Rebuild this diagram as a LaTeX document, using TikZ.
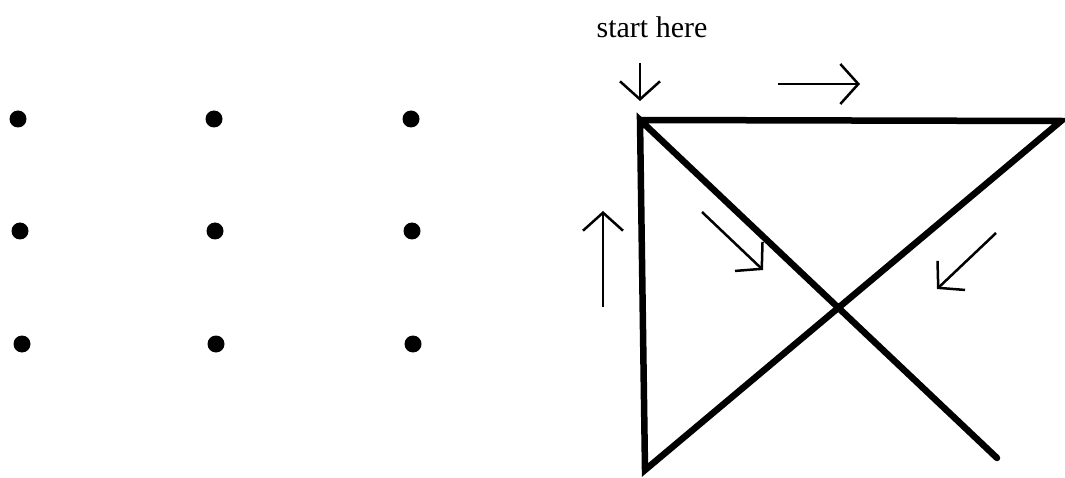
\documentclass[tikz,border=0pt]{standalone}
\usepackage{fontspec}
\setmainfont{Liberation Serif}
\usetikzlibrary{arrows.meta}
\tikzset{
    dot/.style={circle, fill=black, inner sep=0pt, minimum size=17pt},
    stroke/.style={line width=6.5pt, line cap=round},
    hint/.style={line width=2.5pt, -{Straight Barb[length=18pt, width=40pt, line width=2.5pt]}},
}
\begin{document}
\begin{tikzpicture}[x=1pt, y=-1pt]
    \useasboundingbox (0,0) rectangle (1065,478);
    % the nine dots
    \foreach \r/\y in {1/119, 2/231, 3/344} {
        \node[dot] (d\r1) at (16+\r*2,\y) {};
        \node[dot] (d\r2) at (213+\r*1,\y) {};
        \node[dot] (d\r3) at (410+\r*1,\y) {};
    }
    % the solution
    \coordinate (tl) at (640,120);
    \coordinate (tr) at (1061,121);
    \coordinate (bl) at (645,470);
    \coordinate (br) at (997,458);
    \draw[stroke] (tl) -- (tr) -- (bl) -- (tl) -- (br);
    \node (start) at (652,27) {\fontsize{30}{33}\selectfont start here};
    \draw[hint] (640,63) -- (640,101);
    \draw[hint] (778,84) -- (860,84);
    \draw[hint] (603,307) -- (603,211);
    \draw[hint] (702,212) -- (763,270);
    \draw[hint] (996,233) -- (937,289);
\end{tikzpicture}
\end{document}
